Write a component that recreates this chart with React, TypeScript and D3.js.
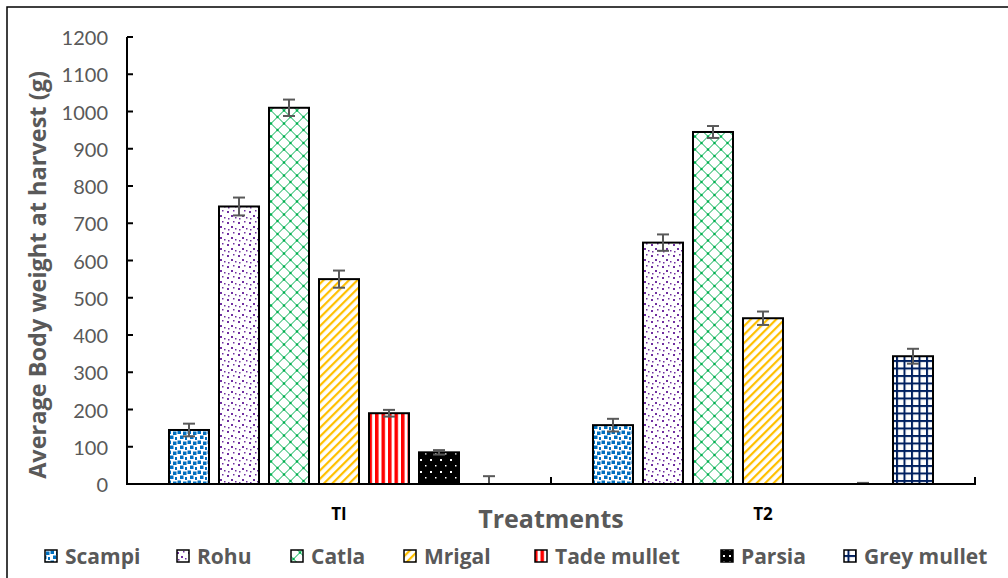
import React from "react";
import * as d3 from "d3";

const groups = ["TI", "T2"];
const series = ["Scampi", "Rohu", "Catla", "Mrigal", "Tade mullet", "Parsia", "Grey mullet"];
const valuesT1 = [145, 745, 1010, 550, 190, 85, 0];
const valuesT2 = [158, 648, 945, 445, 0, 0, 343];
const errorsT1 = [17, 24, 22, 23, 9, 6, 21];
const errorsT2 = [17, 22, 16, 18, 0, 3, 20];
const yTicks = [0, 100, 200, 300, 400, 500, 600, 700, 800, 900, 1000, 1100, 1200];
const patternIds = ["pScampi", "pRohu", "pCatla", "pMrigal", "pTade", "pParsia", "pGrey"];
const legendX = [45, 177, 291, 404, 535, 721, 844];

const W = 1008;
const H = 578;
const FONT = "Lato, 'Open Sans', sans-serif";
const BFONT = "'Open Sans', Lato, sans-serif";
const GRAY = "#595959";

export default function App() {
  const y = d3.scaleLinear().domain([0, 1200]).range([484, 37]);
  const x0 = d3.scaleBand().domain(groups).range([127, 975]).padding(0);
  const x1 = d3
    .scaleBand()
    .domain(series)
    .range([37, 387])
    .paddingInner(0.2)
    .paddingOuter(0.1);
  const data = [
    { g: groups[0], vals: valuesT1, errs: errorsT1 },
    { g: groups[1], vals: valuesT2, errs: errorsT2 },
  ];
  const bw = x1.bandwidth();

  return (
    <svg width={W} height={H} style={{ position: "absolute", left: 0, top: 0, background: "#fff" }}>
      <defs>
        <clipPath id="plotClip">
          <rect x={127} y={0} width={860} height={484} />
        </clipPath>
        <pattern id="pScampi" width={10} height={10} patternUnits="userSpaceOnUse">
          <rect width={10} height={10} fill="#fff" />
          <rect x={0.5} y={0.5} width={3.5} height={3.5} fill="#0070C0" />
          <rect x={6} y={1.5} width={3.5} height={3.5} fill="#0070C0" />
          <rect x={3} y={5.5} width={3.5} height={3.5} fill="#0070C0" />
          <rect x={8} y={7} width={2} height={3} fill="#0070C0" />
        </pattern>
        <pattern id="pRohu" width={11} height={11} patternUnits="userSpaceOnUse">
          <rect width={11} height={11} fill="#fff" />
          <rect x={1} y={2} width={2} height={2} fill="#7030A0" />
          <rect x={7} y={1} width={1.5} height={1.5} fill="#7030A0" />
          <rect x={5} y={6} width={2} height={2} fill="#7030A0" />
          <rect x={9} y={8} width={1.5} height={1.5} fill="#7030A0" />
          <rect x={2} y={9} width={1.5} height={1.5} fill="#7030A0" />
        </pattern>
        <pattern id="pCatla" width={13} height={13} patternUnits="userSpaceOnUse" x={1}>
          <rect width={13} height={13} fill="#fff" />
          <path d="M0,6.5 L6.5,0 L13,6.5 L6.5,13 Z" fill="none" stroke="#00B050" strokeWidth={1} />
          <circle cx={6.5} cy={0} r={1.2} fill="#00B050" />
          <circle cx={6.5} cy={13} r={1.2} fill="#00B050" />
          <circle cx={0} cy={6.5} r={1.2} fill="#00B050" />
          <circle cx={13} cy={6.5} r={1.2} fill="#00B050" />
        </pattern>
        <pattern id="pMrigal" width={6} height={6} patternUnits="userSpaceOnUse" patternTransform="rotate(45)">
          <rect width={6} height={6} fill="#fff" />
          <rect x={0} y={0} width={2.2} height={6} fill="#FFC000" />
        </pattern>
        <pattern id="pTade" width={6.5} height={6} patternUnits="userSpaceOnUse" x={1}>
          <rect width={6.5} height={6} fill="#fff" />
          <rect x={0} y={0} width={3.5} height={6} fill="#FF0000" />
        </pattern>
        <pattern id="pParsia" width={10} height={12} patternUnits="userSpaceOnUse">
          <rect width={10} height={12} fill="#000" />
          <rect x={3} y={3} width={2} height={2} fill="#fff" />
          <rect x={8} y={9} width={1.5} height={1.5} fill="#fff" />
        </pattern>
        <pattern id="pParsiaLeg" width={6} height={6} patternUnits="userSpaceOnUse" x={1} y={1}>
          <rect width={6} height={6} fill="#000" />
          <rect x={2} y={2} width={2} height={2} fill="#fff" />
        </pattern>
        <pattern id="pGrey" width={7.5} height={7.5} patternUnits="userSpaceOnUse">
          <rect width={7.5} height={7.5} fill="#fff" />
          <rect x={0} y={0} width={2} height={7.5} fill="#002060" />
          <rect x={0} y={0} width={7.5} height={2} fill="#002060" />
        </pattern>
      </defs>

      <rect x={7} y={7} width={1020} height={600} fill="none" stroke="#000" strokeWidth={1.5} />

      {/* y ticks */}
      {yTicks.map((t) => (
        <g key={t}>
          <line x1={127} x2={133} y1={y(t)} y2={y(t)} stroke="#000" strokeWidth={2} />
          <text
            x={108}
            y={y(t)}
            textAnchor="end"
            dominantBaseline="central"
            fontFamily={FONT}
            fontSize={20}
            fill={GRAY}
          >
            {t}
          </text>
        </g>
      ))}

      {/* bars */}
      {data.map((d) => (
        <g key={d.g} transform={`translate(${x0(d.g)},0)`}>
          {series.map((s, i) =>
            d.vals[i] > 0 ? (
              <rect
                key={s}
                x={x1(s)}
                y={y(d.vals[i])}
                width={bw}
                height={y(0) - y(d.vals[i])}
                fill={`url(#${patternIds[i]})`}
                stroke="#000"
                strokeWidth={2}
              />
            ) : null
          )}
        </g>
      ))}

      {/* error bars */}
      <g clipPath="url(#plotClip)">
        {data.map((d) =>
          series.map((s, i) => {
            const e = d.errs[i];
            if (!e) return null;
            const cx = (x0(d.g) as number) + (x1(s) as number) + bw / 2;
            const top = y(d.vals[i] + e);
            const bot = y(d.vals[i] - e);
            return (
              <g key={d.g + s} stroke={GRAY} strokeWidth={2}>
                <line x1={cx} x2={cx} y1={top} y2={bot} />
                <line x1={cx - 6} x2={cx + 6} y1={top} y2={top} />
                <line x1={cx - 6} x2={cx + 6} y1={bot} y2={bot} />
              </g>
            );
          })
        )}
      </g>

      {/* axes */}
      <line x1={127} x2={127} y1={y(1200)} y2={y(0) + 1} stroke="#000" strokeWidth={2} />
      <line x1={126} x2={976} y1={y(0)} y2={y(0)} stroke="#000" strokeWidth={2} />
      {[551, 975].map((px) => (
        <line key={px} x1={px} x2={px} y1={y(0)} y2={y(0) - 7} stroke="#000" strokeWidth={2} />
      ))}

      {/* group labels */}
      {groups.map((g) => (
        <text
          key={g}
          x={(x0(g) as number) + x0.bandwidth() / 2}
          y={520}
          textAnchor="middle"
          fontFamily={BFONT}
          fontWeight="bold"
          fontSize={17}
          fill="#000"
        >
          {g}
        </text>
      ))}

      <text x={551} y={528} textAnchor="middle" fontFamily={BFONT} fontWeight="bold" fontSize={25} fill={GRAY}>
        Treatments
      </text>

      <text
        transform={`translate(46,${275}) rotate(-90)`}
        textAnchor="middle"
        fontFamily={BFONT}
        fontWeight="bold"
        fontSize={23.5}
        fill={GRAY}
      >
        Average Body weight at harvest (g)
      </text>

      {/* legend */}
      {series.map((s, i) => (
        <g key={s}>
          <rect
            x={legendX[i]}
            y={550}
            width={12}
            height={12}
            fill={`url(#${i === 5 ? "pParsiaLeg" : patternIds[i]})`}
            stroke="#000"
            strokeWidth={1.5}
          />
          <text
            x={legendX[i] + 20}
            y={556}
            dominantBaseline="central"
            fontFamily={BFONT}
            fontWeight="bold"
            fontSize={21}
            fill={GRAY}
          >
            {s}
          </text>
        </g>
      ))}
    </svg>
  );
}
